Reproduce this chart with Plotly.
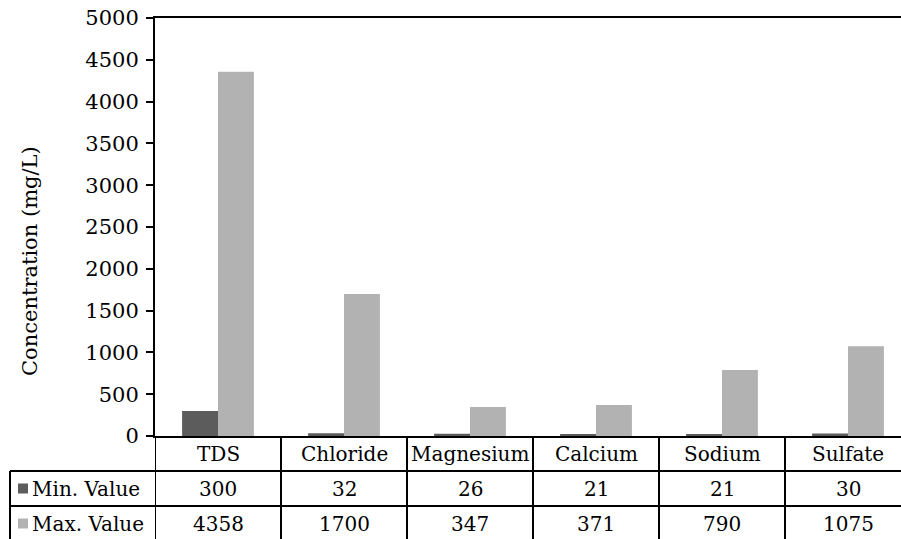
import plotly.graph_objects as go

# Water quality parameters and their concentration range (mg/L)
categories = ["TDS", "Chloride", "Magnesium", "Calcium", "Sodium", "Sulfate"]
min_values = [300, 32, 26, 21, 21, 30]
max_values = [4358, 1700, 347, 371, 790, 1075]
series_names = ["Min. Value", "Max. Value"]
series_colors = ["#5c5c5c", "#b2b2b2"]
y_ticks = [0, 500, 1000, 1500, 2000, 2500, 3000, 3500, 4000, 4500, 5000]

FONT = "DejaVu Serif"
FS = 21        # axis tick labels and axis title
FS_TABLE = 20  # data table text
W, H = 901, 539
ML, MR, MT, MB = 155, 0, 18, 103
PW, PH = W - ML - MR, H - MT - MB

def px_x(px):
    return (px - ML) / PW

def px_y(px):
    return (H - MB - px) / PH

fig = go.Figure()
for name, vals, col in zip(series_names, [min_values, max_values], series_colors):
    fig.add_trace(go.Bar(
        x=categories, y=vals, name=name,
        marker=dict(color=col, line=dict(width=0)),
        showlegend=False,
    ))

# Data table under the plot: row borders in pixel space, columns on category axis
row_tops = [436, 471, 506, 541]
line = dict(color="black", width=2)
shapes = []
for yy in row_tops[1:]:
    shapes.append(dict(type="line", xref="paper", yref="paper",
                       x0=px_x(10), x1=1.0, y0=px_y(yy), y1=px_y(yy), line=line))
shapes.append(dict(type="line", xref="paper", yref="paper",
                   x0=px_x(10), x1=px_x(10), y0=px_y(row_tops[1]), y1=px_y(row_tops[3]),
                   line=line))
for i in range(len(categories) + 1):
    shapes.append(dict(type="line", xref="x", yref="paper",
                       x0=i - 0.5, x1=i - 0.5, y0=0, y1=px_y(row_tops[3]), line=line))
for r, col in enumerate(series_colors):
    cy = (row_tops[r + 1] + row_tops[r + 2]) / 2
    shapes.append(dict(type="rect", xref="paper", yref="paper",
                       x0=px_x(18), x1=px_x(28), y0=px_y(cy + 5), y1=px_y(cy - 5),
                       fillcolor=col, line=dict(width=0)))

annotations = []
tfont = dict(family=FONT, size=FS_TABLE, color="black")
hdr_y = px_y((row_tops[0] + row_tops[1]) / 2)
for c in categories:
    annotations.append(dict(x=c, xref="x", y=hdr_y, yref="paper", text=c,
                            showarrow=False, xanchor="center", yanchor="middle",
                            font=tfont))
for r, (name, vals) in enumerate(zip(series_names, [min_values, max_values])):
    cy = px_y((row_tops[r + 1] + row_tops[r + 2]) / 2)
    annotations.append(dict(x=px_x(30), xref="paper", y=cy, yref="paper", text=name,
                            showarrow=False, xanchor="left", yanchor="middle",
                            font=tfont))
    for c, v in zip(categories, vals):
        annotations.append(dict(x=c, xref="x", y=cy, yref="paper", text=str(v),
                                showarrow=False, xanchor="center", yanchor="middle",
                                font=tfont))
annotations.append(dict(x=px_x(30), xref="paper", y=px_y(261), yref="paper",
                        text="Concentration (mg/L)", textangle=-90, showarrow=False,
                        xanchor="center", yanchor="middle",
                        font=dict(family=FONT, size=FS, color="black")))

fig.update_layout(
    width=W, height=H,
    margin=dict(l=ML, r=MR, t=MT, b=MB, pad=0),
    paper_bgcolor="white", plot_bgcolor="white",
    barmode="group", bargap=0.43, bargroupgap=0,
    font=dict(family=FONT, size=FS, color="black"),
    xaxis=dict(type="category", range=[-0.5, -0.5 + PW / 126.0],
               showticklabels=False, ticks="", showgrid=False,
               showline=True, linecolor="black", linewidth=2, mirror=True,
               zeroline=False),
    yaxis=dict(range=[0, 5000], tickvals=y_ticks, ticks="outside", ticklen=7,
               tickwidth=2, tickcolor="black", showgrid=False, zeroline=False,
               showline=True, linecolor="black", linewidth=2,
               ticklabelstandoff=3,
               tickfont=dict(family=FONT, size=FS, color="black")),
    shapes=shapes,
    annotations=annotations,
)

fig.write_html("out.html")
